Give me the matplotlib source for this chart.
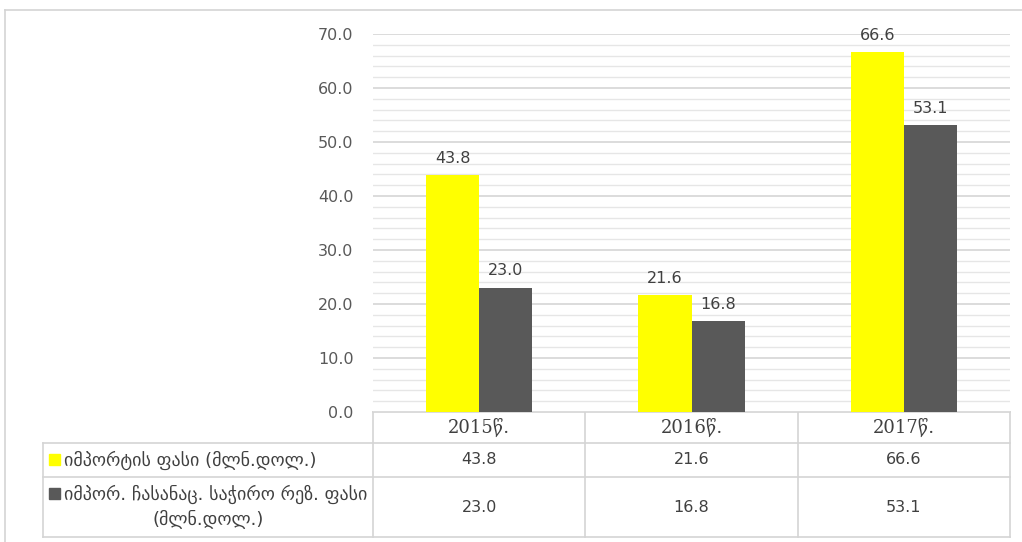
import numpy as np
import matplotlib.pyplot as plt
from matplotlib.patches import Rectangle

# data
years = ["2015წ.", "2016წ.", "2017წ."]
import_price = [43.8, 21.6, 66.6]
reserve_price = [23.0, 16.8, 53.1]
series_names = ["იმპორტის ფასი (მლნ.დოლ.)",
                "იმპორ. ჩასანაც. საჭირო რეზ. ფასი\n(მლნ.დოლ.)"]
colors = ["#ffff00", "#595959"]

W, H = 1022, 542
fig = plt.figure(figsize=(W / 100, H / 100), dpi=100)

# layout in pixels
x_left, x_right = 373, 1010
y_zero, y_top = 412, 34
leg_left = 43
row_edges = [412, 443, 477, 537]

ax = fig.add_axes([x_left / W, (H - y_zero) / H, (x_right - x_left) / W, (y_zero - y_top) / H])
x = np.arange(len(years))
bw = 0.25
b1 = ax.bar(x - bw / 2, import_price, bw, color=colors[0], zorder=3)
b2 = ax.bar(x + bw / 2, reserve_price, bw, color=colors[1], zorder=3)
for bars, vals in [(b1, import_price), (b2, reserve_price)]:
    for rect, v in zip(bars, vals):
        ax.annotate(f"{v:.1f}", (rect.get_x() + rect.get_width() / 2, v),
                    xytext=(0, 7), textcoords="offset points",
                    ha="center", va="bottom", fontsize=11.5, color="#404040", zorder=4)

ax.set_xlim(-0.5, 2.5)
ax.set_ylim(0, 70)
ax.set_yticks(np.arange(0, 71, 10))
ax.set_yticklabels([f"{v:.1f}" for v in np.arange(0, 71, 10)])
ax.set_yticks(np.arange(0, 71, 2), minor=True)
ax.grid(axis="y", which="major", color="#d9d9d9", lw=1.3, zorder=0)
ax.grid(axis="y", which="minor", color="#e6e6e6", lw=1.0, zorder=0)
ax.set_xticks([])
ax.tick_params(axis="y", which="both", length=0, labelsize=11.5, labelcolor="#595959", pad=14)
for s in ax.spines.values():
    s.set_visible(False)

# table drawn in pixel coordinates
tax = fig.add_axes([0, 0, 1, 1], zorder=-1)
tax.set_xlim(0, W)
tax.set_ylim(H, 0)
tax.axis("off")
lc = "#d4d4d4"
col_edges = np.linspace(x_left, x_right, len(years) + 1)

# outer frame of the chart
tax.plot([5, 5], [10, H], color=lc, lw=1.2)
tax.plot([5, W], [10, 10], color=lc, lw=1.2)

# horizontal lines
tax.plot([x_left, x_right], [row_edges[0]] * 2, color=lc, lw=1.2)
for y in row_edges[1:]:
    tax.plot([leg_left, x_right], [y, y], color=lc, lw=1.2)
# vertical lines
tax.plot([leg_left, leg_left], [row_edges[1], row_edges[-1]], color=lc, lw=1.2)
for xe in col_edges:
    tax.plot([xe, xe], [row_edges[0], row_edges[-1]], color=lc, lw=1.2)

# header
for i, yr in enumerate(years):
    cx = (col_edges[i] + col_edges[i + 1]) / 2
    tax.text(cx, (row_edges[0] + row_edges[1]) / 2, yr, ha="center", va="center",
             fontsize=13, color="#404040", family="DejaVu Serif")

# rows
for r, (name, vals, c) in enumerate(zip(series_names, [import_price, reserve_price], colors)):
    y0, y1 = row_edges[r + 1], row_edges[r + 2]
    cy = (y0 + y1) / 2
    for i, v in enumerate(vals):
        cx = (col_edges[i] + col_edges[i + 1]) / 2
        tax.text(cx, cy, f"{v:.1f}", ha="center", va="center", fontsize=11.5, color="#404040")
    if r == 0:
        tax.add_patch(Rectangle((49, cy - 6), 11, 11, color=c))
        tax.text(64, cy, name, ha="left", va="center", fontsize=13, color="#404040")
    else:
        line1, line2 = name.split("\n")
        tax.add_patch(Rectangle((49, y0 + 11), 11, 11, color=c))
        tax.text(64, y0 + 17, line1, ha="left", va="center", fontsize=13, color="#404040")
        tax.text((leg_left + x_left) / 2, y0 + 42, line2, ha="center", va="center",
                 fontsize=13, color="#404040")

fig.savefig("out.png", dpi=100)
